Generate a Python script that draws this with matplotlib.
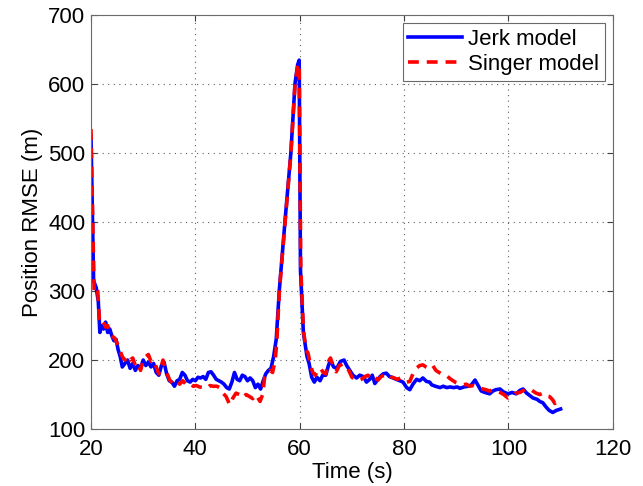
import numpy as np
import matplotlib
matplotlib.use("Agg")
import matplotlib.pyplot as plt

plt.rcParams['font.family'] = ['Liberation Sans', 'DejaVu Sans']

# Jerk model RMSE
t_jerk = [20.0, 20.3, 20.5, 21.0, 21.4, 21.7, 22.0, 22.4, 22.8, 23.2, 23.6, 24.0, 24.4, 24.8,
          25.2, 25.6, 26.0, 26.5, 27.0, 27.5, 28.0, 28.5, 29.0, 29.5, 30.0, 30.5, 31.0, 31.5,
          32.0, 32.5, 33.0, 33.5, 34.0, 34.5, 35.0, 35.5, 36.0, 36.5, 37.0, 37.5, 38.0, 38.5,
          39.0, 39.5, 40.0, 40.5, 41.0, 41.5, 42.0, 42.5, 43.0, 43.5, 44.0, 44.5, 45.0, 45.5,
          46.0, 46.5, 47.0, 47.5, 48.0, 48.5, 49.0, 49.5, 50.0, 50.5, 51.0, 51.5, 52.0, 52.5,
          53.0, 53.5, 54.0, 54.5, 55.0, 55.5, 56.1, 57.2, 58.3, 59.1, 59.6, 59.9,
          60.15, 60.7, 61.4, 61.8, 62.3, 62.8, 63.3, 63.9, 64.4, 65.0, 65.5, 65.9, 66.5, 67.1,
          67.8, 68.5, 69.0, 69.6, 70.2, 70.9, 71.5, 72.2, 72.8, 73.4, 73.9, 74.4, 75.0, 75.4,
          76.0, 76.6, 77.2, 77.9, 78.5, 79.2, 79.8, 80.5, 81.1, 81.7, 82.4, 83.0, 83.6, 84.3,
          84.9, 85.3, 86.0, 86.9, 87.5, 88.2, 88.8, 89.5, 90.2, 90.7, 91.5, 92.3, 92.9, 93.6,
          94.2, 94.8, 95.5, 96.4, 97.0, 97.6, 98.4, 99.0, 99.9, 100.7, 101.5, 102.2, 102.8,
          103.5, 104.2, 104.7, 105.5, 106.0, 106.6, 107.2, 107.8, 108.5, 109.2, 110.0]
jerk = [525, 400, 315, 305, 285, 240, 250, 245, 255, 240, 245, 235, 228, 230,
        215, 205, 190, 195, 200, 188, 195, 185, 192, 188, 200, 192, 197, 190,
        195, 182, 178, 192, 197, 180, 170, 168, 162, 170, 172, 182, 178, 170,
        168, 172, 170, 175, 174, 176, 172, 182, 183, 178, 172, 170, 168, 165,
        160, 158, 168, 182, 172, 170, 178, 176, 170, 174, 170, 160, 165, 158,
        170, 180, 185, 188, 205, 230, 302, 403, 500, 601, 628, 635,
        330, 240, 205, 195, 175, 168, 175, 170, 178, 178, 192, 200, 190, 188,
        198, 200, 192, 185, 178, 174, 178, 176, 168, 172, 178, 166, 172, 176,
        180, 181, 176, 174, 172, 170, 168, 160, 157, 165, 172, 170, 174, 169,
        168, 164, 162, 160, 162, 160, 161, 160, 161, 159, 161, 162, 164, 171,
        163, 155, 153, 151, 155, 157, 158, 154, 151, 153, 151, 156, 158,
        152, 148, 145, 143, 140, 138, 132, 127, 124, 127, 129]

# Singer model RMSE
t_singer = [20.0, 20.3, 20.6, 21.0, 21.3, 21.6, 22.0, 22.4, 22.8, 23.2, 23.6, 24.0, 24.5,
            25.0, 25.5, 26.0, 26.5, 27.0, 27.5, 28.0, 28.5, 29.0, 29.5, 30.0, 30.5, 31.0,
            31.5, 32.0, 32.5, 33.0, 33.5, 33.8, 34.3, 35.1, 35.7, 36.4, 37.0, 37.6, 38.3,
            39.0, 39.6, 40.2, 40.8, 41.5, 42.2, 42.8, 43.4, 44.1, 44.7, 45.3, 45.9, 46.6,
            47.2, 47.8, 48.4, 49.1, 49.7, 50.4, 51.0, 51.6, 52.4, 52.9, 53.3, 53.8, 54.3,
            54.8, 55.3, 55.6, 56.1, 57.2, 58.3, 59.1, 59.6, 59.9,
            60.2, 60.7, 61.2, 61.6, 62.0, 62.5, 63.0, 63.5, 64.0, 64.5, 65.0, 65.5, 65.9,
            66.5, 67.0, 67.6, 68.2, 68.8, 69.4, 70.0, 70.6, 71.2, 71.8, 72.5, 73.1, 73.8,
            74.4, 75.0, 75.6, 76.2, 76.8, 77.4, 78.1, 78.7, 79.3, 80.0, 80.5, 81.1, 81.7,
            82.3, 83.0, 83.6, 84.2, 84.9, 85.5, 86.1, 86.7, 87.4, 88.1, 88.8, 89.4, 90.0,
            90.7, 91.3, 91.9, 92.6, 93.2, 93.8, 94.5, 95.1, 95.7, 96.4, 97.0, 97.7, 98.4,
            99.1, 99.9, 100.6, 101.4, 102.2, 102.9, 103.5, 104.1, 104.7, 105.3, 106.0,
            106.6, 107.2, 107.9, 108.5, 108.9, 109.3, 109.8]
singer = [535, 420, 300, 305, 300, 260, 252, 255, 248, 250, 240, 235, 232,
          225, 215, 205, 200, 206, 200, 203, 192, 195, 185, 200, 205, 208,
          198, 200, 190, 180, 192, 200, 185, 171, 165, 169, 165, 170, 164,
          166, 162, 163, 161, 160, 159, 163, 162, 162, 160, 152, 147, 135,
          145, 152, 150, 145, 150, 147, 144, 150, 140, 150, 176, 180, 185,
          182, 200, 225, 300, 400, 498, 600, 625, 630,
          335, 245, 215, 210, 195, 182, 178, 186, 188, 182, 180, 198, 203,
          190, 183, 192, 194, 192, 185, 175, 172, 170, 172, 176, 178, 172,
          175, 171, 176, 178, 180, 176, 174, 172, 174, 170, 168, 169, 180,
          188, 192, 193, 190, 188, 192, 185, 182, 179, 178, 173, 170, 167,
          165, 164, 165, 162, 163, 161, 160, 158, 157, 155, 157, 155, 153,
          150, 145, 148, 152, 153, 156, 158, 158, 155, 152, 150,
          152, 148, 147, 142, 137, 140, 146]

fig = plt.figure(figsize=(6.43, 4.86), dpi=100)
ax = fig.add_axes([0.1415, 0.1173, 0.8115, 0.8512])

ax.plot(t_jerk, jerk, '-', color='#0000ff', lw=2.6, label='Jerk model')
ax.plot(t_singer, singer, '--', color='#ff0000', lw=2.6, dashes=(3, 2.2), label='Singer model')

ax.set_xlim(20, 120)
ax.set_ylim(100, 700)
ax.set_xticks(np.arange(20, 121, 20))
ax.set_yticks(np.arange(100, 701, 100))
ax.tick_params(direction='in', labelsize=16, length=4, color='#404040', top=True, right=True)
ax.tick_params(axis='x', pad=7)
ax.tick_params(axis='y', pad=4)
ax.grid(True, linestyle=(0, (1, 4)), color='#606060', lw=0.8)
for s in ax.spines.values():
    s.set_color('#6a6a6a')

ax.set_xlabel('Time (s)', fontsize=16, labelpad=2)
ax.set_ylabel('Position RMSE (m)', fontsize=16, labelpad=4)

leg = ax.legend(loc='upper right', fontsize=16, fancybox=False, framealpha=1,
                edgecolor='#6a6a6a', handlelength=2.4, borderaxespad=0.35,
                labelspacing=0.2, handletextpad=0.3, borderpad=0.25)
leg.get_frame().set_linewidth(0.8)

fig.savefig('out.png', dpi=100)
